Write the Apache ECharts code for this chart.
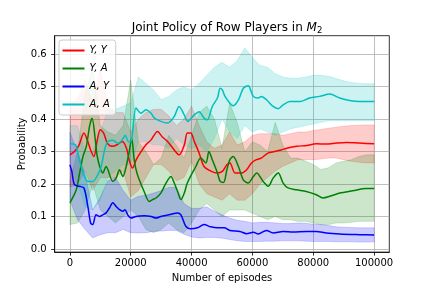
<!DOCTYPE html>
<html>
<head>
<meta charset="utf-8">
<script src="https://cdn.jsdelivr.net/npm/echarts@6/dist/echarts.min.js"></script>
<style>html,body{margin:0;padding:0;background:#fff}#c{width:432px;height:288px}</style>
</head>
<body>
<div id="c"></div>
<script>
// ---- tick labels ----
const xTicks = [0, 20000, 40000, 60000, 80000, 100000];
const yTicks = [0, 0.1, 0.2, 0.3, 0.4, 0.5, 0.6];
const seriesNames = ['Y, Y', 'Y, A', 'A, Y', 'A, A'];

// ---- mean lines ----
const yyX = [0,1500,3000,4600,5700,6800,7900,9000,10000,11100,12300,13900,15500,17200,18600,19600,20600,21800,23400,25000,26700,28800,30400,32100,34300,35900,37600,38600,39700,40900,42500,44100,46500,48500,50100,51600,52600,54300,56500,58100,59700,61300,62900,65100,67300,69400,71600,74600,77900,81000,84300,87600,90900,95200,100000];
const yyV = [0.29,0.30,0.32,0.357,0.336,0.305,0.285,0.336,0.367,0.357,0.326,0.316,0.321,0.331,0.31,0.27,0.249,0.275,0.30,0.321,0.336,0.362,0.345,0.331,0.305,0.29,0.32,0.357,0.357,0.331,0.295,0.254,0.239,0.234,0.239,0.259,0.265,0.234,0.234,0.244,0.265,0.275,0.28,0.295,0.30,0.305,0.311,0.316,0.319,0.324,0.323,0.326,0.328,0.326,0.324];

const yaX = [0,2100,3200,4300,5400,6500,7300,8300,8900,9800,10800,11900,14100,15200,16300,17400,18500,19500,20300,21200,22000,22800,24400,26100,27200,28300,29900,31600,33200,34300,35400,36500,37600,38600,41400,43000,44700,45700,46800,48500,49400,50500,51600,52600,53700,55400,57000,58600,60300,61400,63500,65200,66800,68500,70100,71700,74500,77700,81000,83200,85400,88700,93000,97400,100000];
const yaV = [0.142,0.182,0.234,0.285,0.316,0.38,0.403,0.34,0.29,0.254,0.234,0.254,0.208,0.218,0.244,0.223,0.254,0.30,0.34,0.27,0.235,0.213,0.177,0.146,0.152,0.157,0.172,0.203,0.223,0.203,0.177,0.152,0.172,0.203,0.254,0.28,0.265,0.30,0.275,0.234,0.208,0.205,0.244,0.275,0.285,0.254,0.213,0.203,0.223,0.234,0.208,0.193,0.218,0.234,0.203,0.188,0.182,0.177,0.167,0.157,0.162,0.172,0.179,0.186,0.186];

const ayX = [0,600,1500,3100,4600,5900,6800,7500,8600,9700,10800,11900,13000,14100,15200,16300,17400,18100,19000,20100,21700,24400,26700,28300,29900,32600,35400,36500,38100,39700,41900,44100,46300,48500,50700,52600,55900,58100,60300,61900,64600,66800,70100,73400,77700,81000,84300,88700,95200,100000];
const ayV = [0.259,0.24,0.198,0.193,0.188,0.131,0.08,0.075,0.105,0.10,0.105,0.111,0.126,0.142,0.131,0.121,0.116,0.121,0.105,0.095,0.10,0.102,0.10,0.095,0.10,0.105,0.111,0.105,0.07,0.062,0.065,0.075,0.068,0.065,0.065,0.057,0.054,0.047,0.051,0.046,0.057,0.049,0.054,0.052,0.054,0.054,0.049,0.046,0.044,0.043];

const aaX = [0,1900,2600,3700,4800,5900,7500,9200,10300,11400,12400,14100,15900,17200,18200,19300,20100,21750,23400,25000,26700,27700,29900,32100,34300,35900,37600,38700,40900,42500,44100,45200,46800,48500,49400,50100,51000,52600,53700,55400,57000,58600,60300,61900,63000,64700,66800,68500,70100,72300,75600,78800,82100,85400,88700,91900,95200,100000];
const aaV = [0.324,0.32,0.295,0.254,0.223,0.208,0.208,0.229,0.254,0.305,0.33,0.335,0.325,0.336,0.35,0.33,0.331,0.434,0.418,0.429,0.418,0.404,0.393,0.388,0.408,0.439,0.413,0.393,0.413,0.423,0.403,0.398,0.439,0.465,0.495,0.49,0.470,0.449,0.441,0.459,0.495,0.503,0.470,0.465,0.470,0.459,0.439,0.432,0.444,0.454,0.454,0.465,0.470,0.477,0.465,0.457,0.454,0.454];

// ---- shaded bands (lower / upper bounds) ----
const bandX = [0,2500,5000,7500,10000,12500,15000,17500,20000,22500,25000,27500,30000,32500,35000,37500,40000,42500,45000,47500,50000,52500,55000,57500,60000,62500,65000,67500,70000,72500,75000,77500,80000,82500,85000,87500,90000,92500,95000,97500,100000];
const yyLo = [0.19,0.20,0.24,0.18,0.22,0.22,0.22,0.24,0.16,0.18,0.22,0.26,0.26,0.24,0.21,0.22,0.27,0.20,0.17,0.16,0.15,0.17,0.15,0.15,0.17,0.20,0.22,0.24,0.255,0.265,0.275,0.275,0.275,0.277,0.28,0.28,0.275,0.27,0.267,0.265,0.265];
const yyHi = [0.45,0.46,0.52,0.45,0.55,0.44,0.42,0.42,0.36,0.40,0.42,0.43,0.43,0.41,0.38,0.40,0.44,0.38,0.33,0.31,0.32,0.36,0.32,0.33,0.35,0.355,0.355,0.355,0.35,0.355,0.36,0.36,0.365,0.368,0.372,0.375,0.378,0.38,0.381,0.382,0.382];
const yaLo = [0.075,0.08,0.12,0.20,0.12,0.10,0.08,0.10,0.12,0.10,0.06,0.05,0.06,0.08,0.06,0.05,0.08,0.12,0.14,0.12,0.10,0.12,0.12,0.12,0.11,0.10,0.09,0.10,0.09,0.09,0.085,0.085,0.08,0.075,0.075,0.08,0.08,0.082,0.085,0.085,0.085];
const yaHi = [0.21,0.30,0.48,0.56,0.38,0.36,0.35,0.38,0.52,0.33,0.30,0.26,0.28,0.35,0.32,0.28,0.35,0.42,0.44,0.40,0.31,0.45,0.39,0.30,0.33,0.32,0.30,0.39,0.32,0.28,0.28,0.27,0.26,0.245,0.25,0.265,0.27,0.275,0.285,0.29,0.29];
const ayLo = [0.15,0.09,0.06,0.034,0.044,0.05,0.05,0.06,0.05,0.049,0.05,0.054,0.055,0.057,0.057,0.045,0.037,0.034,0.035,0.035,0.033,0.029,0.025,0.023,0.023,0.023,0.024,0.024,0.025,0.025,0.025,0.024,0.023,0.023,0.023,0.022,0.022,0.022,0.021,0.021,0.022];
const ayHi = [0.36,0.30,0.23,0.12,0.16,0.21,0.22,0.18,0.15,0.162,0.165,0.172,0.18,0.19,0.19,0.14,0.125,0.125,0.13,0.116,0.105,0.095,0.088,0.085,0.08,0.082,0.082,0.08,0.078,0.078,0.08,0.079,0.076,0.075,0.072,0.068,0.067,0.066,0.065,0.065,0.065];
const aaLo = [0.27,0.20,0.13,0.12,0.15,0.22,0.24,0.26,0.26,0.33,0.33,0.32,0.32,0.31,0.34,0.32,0.31,0.32,0.30,0.34,0.40,0.36,0.34,0.38,0.36,0.37,0.36,0.35,0.36,0.37,0.375,0.38,0.385,0.39,0.395,0.395,0.395,0.395,0.395,0.395,0.395];
const aaHi = [0.38,0.38,0.30,0.30,0.36,0.43,0.43,0.44,0.45,0.53,0.51,0.49,0.46,0.47,0.49,0.50,0.49,0.51,0.535,0.56,0.575,0.56,0.58,0.62,0.59,0.565,0.56,0.54,0.53,0.526,0.526,0.53,0.535,0.535,0.532,0.525,0.518,0.513,0.51,0.509,0.509];

const FONT = 'DejaVu Sans';
const pairs = (xs, ys) => xs.map((x, i) => [x, ys[i]]);

function lineSeries(name, xs, ys, color) {
  return { name, type: 'line', data: pairs(xs, ys), showSymbol: false, smooth: 0.3,
    lineStyle: { color, width: 1.5 }, itemStyle: { color }, z: 3, silent: true };
}
// filled band between lower and upper bound, drawn as one polygon through the axis scales
function bandSeries(lo, hi, rgba) {
  return {
    type: 'custom', silent: true, z: 2,
    data: bandX.map((x, i) => [x, lo[i], hi[i]]),
    encode: { x: 0, y: [1, 2] },
    renderItem: function (params, api) {
      if (params.dataIndex !== 0) return null;
      const n = params.dataInsideLength;
      const top = [], bot = [];
      for (let i = 0; i < n; i++) {
        const x = api.value(0, i);
        top.push(api.coord([x, api.value(2, i)]));
        bot.push(api.coord([x, api.value(1, i)]));
      }
      return { type: 'polygon', shape: { points: top.concat(bot.reverse()) },
        style: { fill: rgba, stroke: rgba, lineWidth: 0.8 } };
    }
  };
}

const series = [
  lineSeries(seriesNames[0], yyX, yyV, '#ff0000'),
  bandSeries(yyLo, yyHi, 'rgba(255,0,0,0.2)'),
  lineSeries(seriesNames[1], yaX, yaV, '#008000'),
  bandSeries(yaLo, yaHi, 'rgba(0,128,0,0.2)'),
  lineSeries(seriesNames[2], ayX, ayV, '#0000ff'),
  bandSeries(ayLo, ayHi, 'rgba(0,0,255,0.2)'),
  lineSeries(seriesNames[3], aaX, aaV, '#00bfbf'),
  bandSeries(aaLo, aaHi, 'rgba(0,191,191,0.2)')
];

const chart = echarts.init(document.getElementById('c'), null, { renderer: 'canvas' });
chart.setOption({
  animation: false,
  backgroundColor: '#fff',
  textStyle: { fontFamily: FONT },
  title: {
    text: 'Joint Policy of Row Players in {m|M}{s|2}',
    left: 222, top: 15, textAlign: 'center',
    textStyle: { fontFamily: FONT, fontSize: 12, fontWeight: 'normal', color: '#000',
      rich: {
        m: { fontFamily: FONT, fontSize: 12, fontStyle: 'italic', color: '#000' },
        s: { fontFamily: FONT, fontSize: 8.5, color: '#000', padding: [6, 0, 0, 0] }
      } }
  },
  grid: { left: 54.7, right: 42.7, top: 35.7, bottom: 35.5, show: true,
    borderColor: '#000', borderWidth: 0.8, backgroundColor: 'transparent' },
  legend: {
    data: seriesNames.map(n => ({ name: n, icon: 'rect' })),
    orient: 'vertical', left: 59, top: 40, z: 10,
    itemWidth: 22, itemHeight: 2, itemGap: 6,
    padding: [4.5, 6, 4.5, 3.5],
    backgroundColor: 'rgba(255,255,255,0.8)', borderColor: '#cccccc', borderWidth: 1, borderRadius: 3,
    textStyle: { fontFamily: FONT, fontSize: 10, fontStyle: 'italic', color: '#000', lineHeight: 12 },
    selectedMode: false
  },
  xAxis: {
    type: 'value', min: -5000, max: 105000,
    name: 'Number of episodes', nameLocation: 'middle', nameGap: 19,
    nameTextStyle: { fontFamily: FONT, fontSize: 10, color: '#000' },
    axisLine: { show: true, onZero: false, lineStyle: { color: '#000', width: 0.8 } },
    axisTick: { show: true, inside: false, length: 3.5, customValues: xTicks, lineStyle: { color: '#000', width: 0.8 } },
    axisLabel: { customValues: xTicks, margin: 6, fontFamily: FONT, fontSize: 10, color: '#000', formatter: v => String(v) },
    splitLine: { show: true, lineStyle: { color: '#b0b0b0', width: 0.8 } }
  },
  yAxis: {
    type: 'value', min: -0.0098, max: 0.657,
    name: 'Probability', nameLocation: 'middle', nameGap: 27, nameRotate: 90, nameMoveOverlap: false,
    nameTextStyle: { fontFamily: FONT, fontSize: 10, color: '#000' },
    axisLine: { show: true, onZero: false, lineStyle: { color: '#000', width: 0.8 } },
    axisTick: { show: true, inside: false, length: 3.5, customValues: yTicks, lineStyle: { color: '#000', width: 0.8 } },
    axisLabel: { customValues: yTicks, margin: 8, fontFamily: FONT, fontSize: 10, color: '#000', formatter: v => v.toFixed(1) },
    splitLine: { show: true, lineStyle: { color: '#b0b0b0', width: 0.8 } }
  },
  series
});
</script>
</body>
</html>
